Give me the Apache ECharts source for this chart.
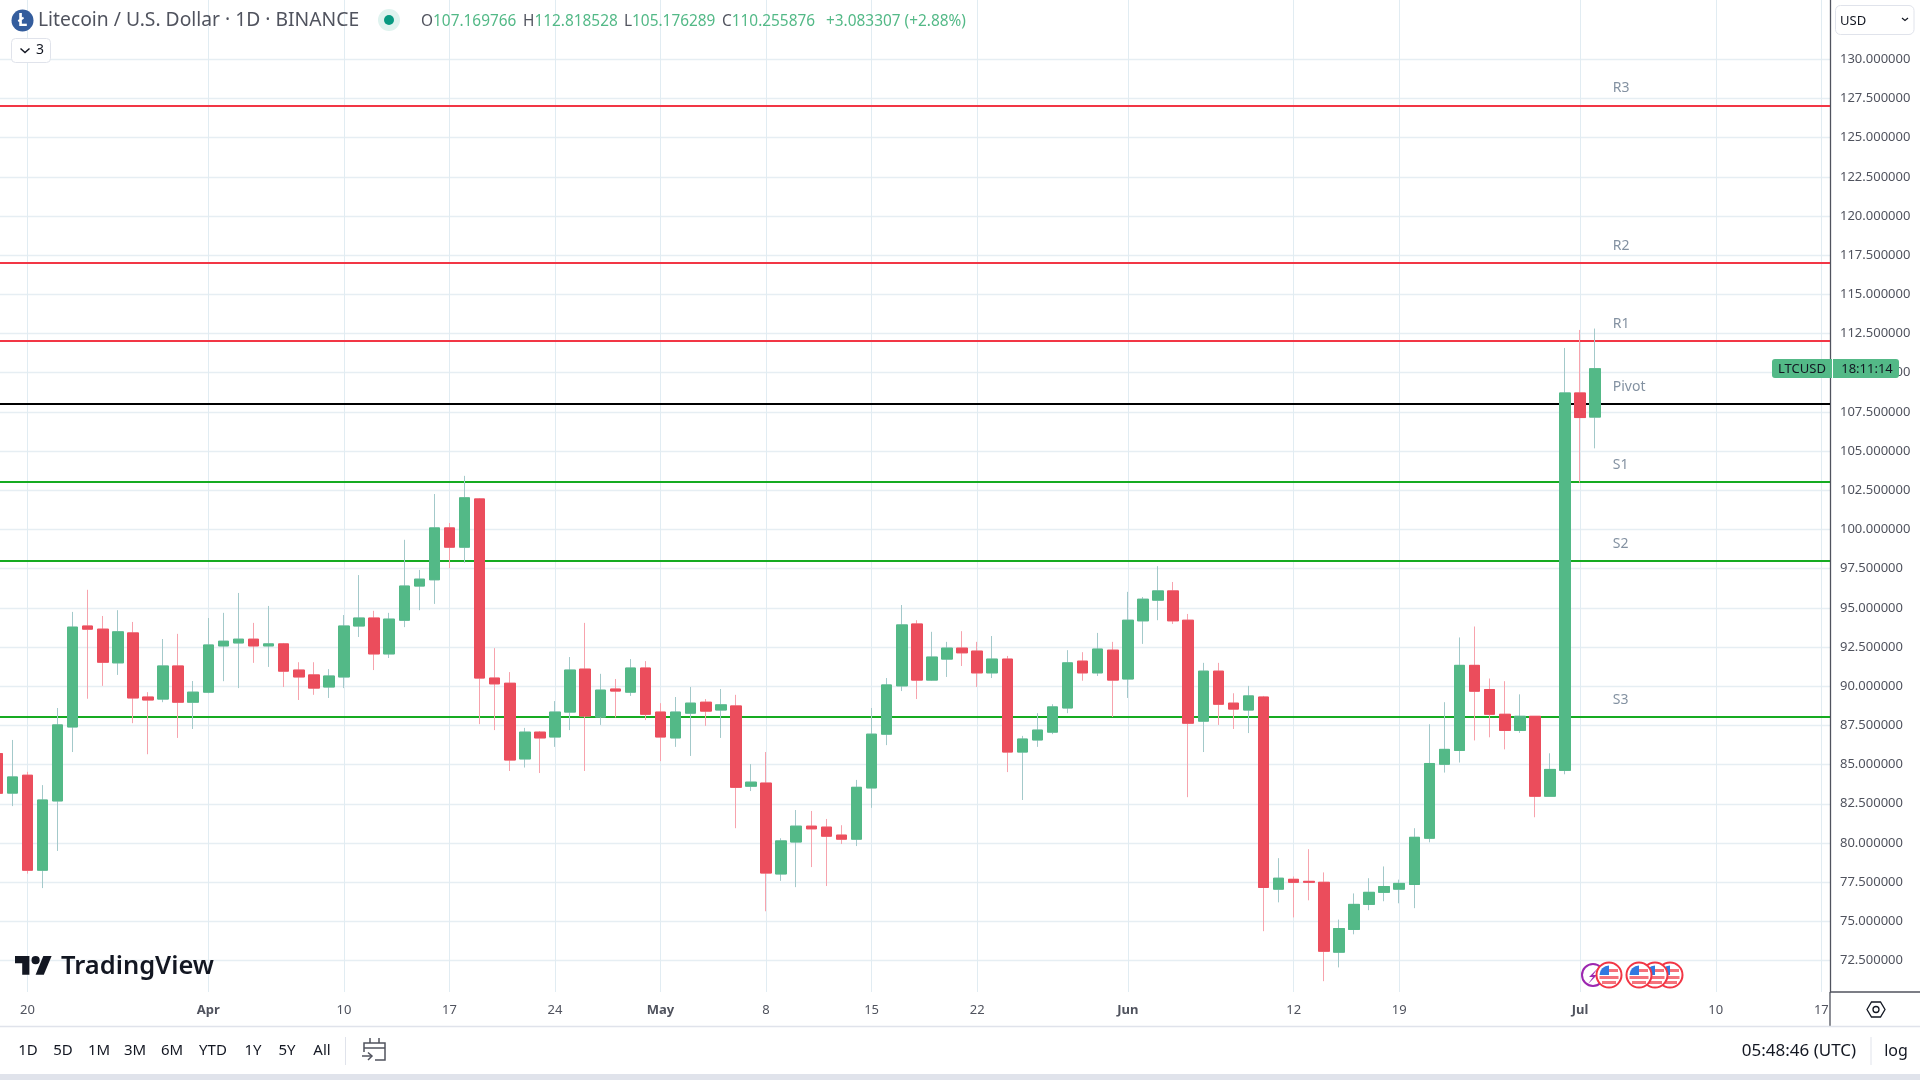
<!DOCTYPE html>
<html>
<head>
<meta charset="utf-8">
<title>Litecoin / U.S. Dollar</title>
<script src="https://cdn.jsdelivr.net/npm/echarts@6/dist/echarts.min.js"></script>
<style>html,body{margin:0;padding:0;background:#fff}#c{width:1920px;height:1080px}</style>
</head>
<body>
<div id="c"></div>
<script>
// ---------- data ----------
const firstDay = '2023-03-18';
const opens = [85.7,83.18,84.32,78.26,82.68,87.4,93.84,93.64,91.49,93.4,89.31,89.18,91.29,88.98,
 89.62,92.57,92.76,93.0,92.57,92.7,91.03,90.72,89.95,90.59,93.84,94.35,92.06,94.21,96.39,96.79,100.1,98.87,101.95,90.52,90.19,85.36,87.07,86.76,88.35,91.09,88.04,89.82,89.62,91.16,
 88.35,86.7,88.28,88.98,88.48,88.74,83.62,83.82,78.02,80.06,81.07,81.01,80.5,80.24,83.51,86.94,90.02,93.97,90.39,91.73,92.43,92.24,90.85,91.73,85.8,86.57,87.07,88.61,91.6,90.85,92.3,
 90.46,94.17,95.49,96.08,94.21,87.77,90.96,88.92,88.48,89.31,77.05,77.68,77.55,77.49,73.03,74.48,76.08,76.85,77.05,77.35,80.3,85.02,85.9,91.33,89.79,88.21,87.18,88.08,82.98,84.63,
 108.71,107.17];
const closes = [83.17,84.21,78.26,82.74,87.53,93.77,93.64,91.53,93.47,89.25,89.12,91.29,88.98,89.62,
 92.63,92.87,93.0,92.57,92.7,90.96,90.59,89.88,90.65,93.84,94.35,92.06,94.28,96.39,96.83,100.1,98.87,102.02,90.52,90.15,85.29,87.07,86.7,88.35,91.03,88.1,89.75,89.69,91.16,88.21,
 86.76,88.35,88.92,88.41,88.81,83.55,83.88,78.08,80.13,81.07,80.9,80.43,80.24,83.55,86.94,90.08,93.91,90.39,91.86,92.43,92.13,90.85,91.73,85.8,86.63,87.2,88.68,91.49,90.85,92.37,90.39,
 94.21,95.55,96.08,94.17,87.64,90.96,88.85,88.54,89.38,77.16,77.75,77.49,77.49,73.09,74.54,76.08,76.85,77.22,77.42,80.36,85.07,85.97,91.33,89.68,88.21,87.18,88.08,82.98,84.69,108.71,
 107.14,110.255876];
const highs = [86.6,86.57,84.54,83.69,88.61,94.74,96.15,94.48,94.85,94.1,89.62,93.01,93.34,90.33,
 94.35,94.68,95.95,94.04,95.12,92.76,91.53,91.53,91.09,94.54,97.09,94.81,94.68,99.34,97.42,102.26,100.41,103.42,102.0,92.43,90.9,87.34,87.14,89.05,91.86,94.04,90.79,90.46,91.73,91.6,
 88.92,89.31,89.95,89.18,89.82,89.45,85.03,85.8,80.3,82.1,82.04,81.53,81.13,84.02,88.61,90.52,95.18,94.21,93.47,92.83,93.51,92.83,93.2,91.93,86.83,88.28,88.85,92.3,92.17,93.4,92.83,
 96.02,95.69,97.66,96.65,94.61,91.49,91.49,89.55,90.02,89.38,79.03,77.86,79.6,78.12,75.11,76.78,77.75,78.5,77.66,80.94,87.57,88.98,93.11,93.81,90.49,90.32,89.48,88.08,85.72,111.58,
 112.73,112.818528];
const lows = [82.5,82.35,78.04,77.12,79.49,85.8,89.2,90.02,90.72,87.64,85.66,88.98,86.7,87.27,
 89.55,90.32,89.88,91.49,91.23,89.95,89.12,89.45,89.25,89.88,93.14,91.03,91.8,93.77,94.85,95.25,97.53,97.88,87.58,87.2,84.59,84.81,84.46,86.13,87.2,84.59,87.53,88.0,89.38,87.84,
 85.22,86.13,85.55,87.47,86.7,80.94,83.31,75.64,77.58,77.18,78.46,77.25,79.93,79.8,82.24,86.24,89.69,89.18,90.35,90.59,91.29,89.95,90.52,84.52,82.74,86.13,86.94,88.28,90.35,90.65,88.04,
 89.25,92.7,94.21,93.97,82.92,85.8,87.53,87.27,87.01,74.37,76.21,75.25,76.34,71.18,72.06,74.17,75.71,76.28,76.15,75.84,80.04,84.49,85.13,86.54,86.74,85.97,87.02,81.64,82.98,84.38,
 102.99,105.176289];

const priceTicks = [72.5,75,77.5,80,82.5,85,87.5,90,92.5,95,97.5,100,102.5,105,107.5,110,112.5,115,117.5,120,122.5,125,127.5,130];
const timeTickDates = ['2023-03-20','2023-04-01','2023-04-10','2023-04-17','2023-04-24','2023-05-01','2023-05-08','2023-05-15','2023-05-22','2023-06-01','2023-06-12','2023-06-19','2023-07-01','2023-07-10','2023-07-17'];
const timeTickLabels = ['20','Apr','10','17','24','May','8','15','22','Jun','12','19','Jul','10','17'];
const pivotNames = ['R3','R2','R1','Pivot','S1','S2','S3'];
const pivotValues = [127.05,117.02,112.04,108,103.03,98,88.05];
const pivotColors = ['#f23645','#f23645','#f23645','#000000','#16ab21','#16ab21','#16ab21'];
const pivotLabelDay = '2023-07-03';
const rangeButtons = ['1D','5D','1M','3M','6M','YTD','1Y','5Y','All'];
const rangeButtonX = [28,63,99,135,172,213,253,287,322];
const ohlcKeys = ['O','H','L','C',''];
const ohlcTexts = ['107.169766','112.818528','105.176289','110.255876','+3.083307 (+2.88%)'];
const ohlcX = [421,523,624,722,826];

// ---------- layout ----------
const DAY = 86400000;
const W = 1920, H = 1080, PLOT_R = 1830, PLOT_B = 992;
const GREEN = '#53b987', RED = '#eb4d5c', WICK_G = '#a3c9ca', WICK_R = '#f7a3ad';
const FONT = '"Noto Sans", sans-serif';
const t0 = Date.parse(firstDay);
const days = opens.map((_, i) => t0 + i * DAY);
const tRef = Date.parse('2023-03-20');
const pxPerDay = 15.075, refX = 27.4;
const xMin = tRef - (refX / pxPerDay) * DAY;
const xMax = tRef + ((PLOT_R - refX) / pxPerDay) * DAY;
const yMin = 70.49, yMax = 133.78;

const tickMs = timeTickDates.map(d => Date.parse(d));
const monthLabels = ['Apr','May','Jun','Jul'];
function timeLabel(v) {
  const i = tickMs.indexOf(+v);
  if (i < 0) return '';
  const s = timeTickLabels[i];
  return monthLabels.indexOf(s) >= 0 ? '{b|' + s + '}' : s;
}

// full candles drawn first show wicks; candles without wicks on top hold the solid bodies
const wickData = days.map((t, i) => [t, opens[i], closes[i], lows[i], highs[i]]);
const bodyData = days.map((t, i) => [t, opens[i], closes[i], Math.min(opens[i], closes[i]), Math.max(opens[i], closes[i])]);

// ---------- chrome ----------
function txt(x, y, text, size, fill, align, weight, z) {
  return {type:'text', z:z||50, silent:true, x:x, y:y, style:{text:text, fill:fill||'#131722', font:(weight||'normal')+' '+size+'px '+FONT, align:align||'left', verticalAlign:'middle'}};
}
function ln(x1,y1,x2,y2,color,w,z){
  return {type:'line', z:z||40, silent:true, shape:{x1:x1,y1:y1,x2:x2,y2:y2}, style:{stroke:color,lineWidth:w||1}};
}
function flag(cx, cy, z) {
  const r = 10;
  return {type:'group', z:z, silent:true, x:cx, y:cy, children:[
    {type:'circle', z:z, shape:{r:12.5}, style:{fill:'#fff', stroke:'#f23645', lineWidth:2}},
    {type:'sector', z:z, shape:{r:r-0.5, startAngle:Math.PI, endAngle:Math.PI*1.5}, style:{fill:'#3179e0'}},
    {type:'rect', z:z, shape:{x:0, y:-6, width:9, height:3}, style:{fill:'#f5737c'}},
    {type:'rect', z:z, shape:{x:-9.5, y:1, width:19, height:3}, style:{fill:'#f5737c'}},
    {type:'rect', z:z, shape:{x:-7, y:6, width:14, height:3}, style:{fill:'#f5737c'}}
  ]};
}
const greenT = '#53b987', darkT = '#50535e';
const graphics = [
  // axis frame extensions
  ln(PLOT_R,PLOT_B,W,PLOT_B,'#50535e',1.3),
  ln(PLOT_R,PLOT_B,PLOT_R,1026,'#50535e',1.3),
  ln(0,1026.5,W,1026.5,'#e0e3eb',1.5),
  {type:'rect', z:40, silent:true, shape:{x:0,y:1074,width:W,height:6}, style:{fill:'#e0e3eb'}},
  // legend head
  {type:'circle', z:50, silent:true, shape:{cx:22.5,cy:20.5,r:11}, style:{fill:'#345d9d'}},
  txt(22.5,21,'Ł',17,'#fff','center','bold'),
  txt(38,21,'Litecoin / U.S. Dollar · 1D · BINANCE',19.3,'#50535e'),
  {type:'rect', z:50, silent:true, shape:{x:378,y:9,width:22,height:22,r:11}, style:{fill:'#dff3ef'}},
  {type:'circle', z:51, silent:true, shape:{cx:389,cy:20,r:5}, style:{fill:'#089981'}},
  {type:'rect', z:50, silent:true, shape:{x:11.5,y:38.5,width:39,height:24,r:4}, style:{fill:'#fff',stroke:'#e0e3eb',lineWidth:1}},
  {type:'polyline', z:51, silent:true, shape:{points:[[20.5,48.5],[25,52.5],[29.5,48.5]]}, style:{stroke:'#131722',lineWidth:1.5,fill:null}},
  txt(36,50,'3',14,'#131722'),
  // currency box
  {type:'rect', z:50, silent:true, shape:{x:1835.5,y:5.5,width:78.5,height:29,r:5}, style:{fill:'#fff',stroke:'#e0e3eb',lineWidth:1}},
  txt(1840,21,'USD',13,'#131722'),
  {type:'polyline', z:51, silent:true, shape:{points:[[1902,18],[1905,20.5],[1908,18]]}, style:{stroke:'#131722',lineWidth:1.2,fill:null}},
  // last price tag
  {type:'rect', z:60, silent:true, shape:{x:1772,y:359,width:60,height:19,r:[3,0,0,3]}, style:{fill:GREEN}},
  {type:'rect', z:60, silent:true, shape:{x:1833,y:359,width:66,height:19,r:[0,3,3,0]}, style:{fill:GREEN}},
  txt(1778,369.5,'LTCUSD',13,'#131722','left','normal',61),
  txt(1867,369.5,'18:11:14',13,'#131722','center','normal',61),
  // watermark
  {type:'polygon', z:45, silent:true, shape:{points:[[29.4,974.7],[22.2,974.7],[22.2,963.3],[15,963.3],[15,956.1],[29.4,956.1]]}, style:{fill:'#131722'}},
  {type:'polygon', z:45, silent:true, shape:{points:[[43.8,974.7],[35.6,974.7],[43.3,956.1],[51.6,956.1]]}, style:{fill:'#131722'}},
  {type:'circle', z:45, silent:true, shape:{cx:35.6,cy:960.2,r:4.1}, style:{fill:'#131722'}},
  txt(61,966.5,'TradingView',25.5,'#131722','left','600',45),
  // events
  {type:'circle', z:42, silent:true, shape:{cx:1593,cy:975,r:11}, style:{fill:'#fff',stroke:'#9c27b0',lineWidth:2}},
  {type:'polygon', z:42, silent:true, shape:{points:[[1598,968],[1589,977],[1593,977],[1588,984],[1597,975],[1593,975]]}, style:{fill:'#9c27b0'}},
  flag(1670,975,42), flag(1655,975,43), flag(1639,975,44), flag(1609,975,43),
  // settings gear
  {type:'polygon', z:50, silent:true, shape:{points:[[1867,1009.5],[1871.5,1002],[1880.5,1002],[1885,1009.5],[1880.5,1017],[1871.5,1017]]}, style:{fill:'#fff',stroke:'#131722',lineWidth:1.3}},
  {type:'circle', z:51, silent:true, shape:{cx:1876,cy:1009.5,r:3}, style:{fill:'#fff',stroke:'#131722',lineWidth:1.3}},
  // bottom toolbar
  ln(345.5,1037,345.5,1065,'#e0e3eb',1),
  {type:'polyline', z:50, silent:true, shape:{points:[[364,1052],[364,1043],[385,1043],[385,1060],[375,1060]]}, style:{stroke:'#50535e',lineWidth:1.5,fill:null}},
  ln(364,1048,385,1048,'#50535e',1.5),
  ln(370,1038,370,1043,'#50535e',1.5),
  ln(379,1038,379,1043,'#50535e',1.5),
  ln(362,1056,372,1056,'#50535e',1.5),
  {type:'polyline', z:50, silent:true, shape:{points:[[368,1052.5],[372,1056],[368,1060]]}, style:{stroke:'#50535e',lineWidth:1.5,fill:null}},
  txt(1799,1051,'05:48:46 (UTC)',17,'#131722','center'),
  ln(1871,1037,1871,1065,'#e0e3eb',1),
  txt(1896,1051,'log',16,'#131722','center')
];
rangeButtons.forEach((b, i) => graphics.push(txt(rangeButtonX[i],1051,b,15,'#131722','center')));
ohlcTexts.forEach((t, i) => graphics.push({type:'text', z:50, silent:true, x:ohlcX[i], y:22, style:{
  text:(ohlcKeys[i] ? '{k|' + ohlcKeys[i] + '}' : '') + '{g|' + t + '}',
  verticalAlign:'middle', font:'15.4px '+FONT,
  rich:{k:{fill:darkT, font:'15.4px '+FONT}, g:{fill:greenT, font:'15.4px '+FONT}}}}));

// ---------- chart ----------
const option = {
  animation:false,
  backgroundColor:'#ffffff',
  textStyle:{fontFamily:FONT},
  grid:{left:0, top:0, width:PLOT_R, height:PLOT_B, containLabel:false},
  xAxis:{
    type:'value', min:xMin, max:xMax, scale:true,
    axisLine:{show:false}, axisTick:{show:false, customValues:tickMs},
    axisLabel:{customValues:tickMs, formatter:timeLabel, hideOverlap:false, showMinLabel:true, showMaxLabel:true, margin:12, color:'#50535e', fontSize:13, fontFamily:FONT,
      rich:{b:{fontWeight:'bold', fontSize:13, color:'#50535e', fontFamily:FONT}}},
    splitLine:{show:true, lineStyle:{color:'#e1ecf2', width:1}}
  },
  yAxis:{
    type:'value', position:'right', min:yMin, max:yMax, scale:true,
    axisLine:{show:true, onZero:false, lineStyle:{color:'#50535e', width:1.3}},
    axisTick:{show:false, customValues:priceTicks},
    axisLabel:{customValues:priceTicks, formatter:v => (+v).toFixed(6), margin:10, color:'#50535e', fontSize:13, fontFamily:FONT, showMinLabel:true, showMaxLabel:true},
    splitLine:{show:true, lineStyle:{color:'#e6eef3', width:1.3}}
  },
  series:[
    {
      name:'Pivot levels', type:'scatter', z:1, silent:true, symbolSize:1,
      itemStyle:{color:'transparent'},
      data:pivotNames.map((n, i) => ({name:n, value:[Date.parse(pivotLabelDay), pivotValues[i]]})),
      label:{show:true, position:'right', distance:0, offset:[2,-17], formatter:p => p.name, color:'#64768a', fontSize:14, fontFamily:FONT},
      markLine:{silent:true, z:1, symbol:'none', animation:false, label:{show:false},
        data:pivotValues.map((v, i) => ({yAxis:v, lineStyle:{color:pivotColors[i], width:2, type:'solid'}}))}
    },
    {
      name:'LTCUSD wicks', type:'candlestick', layout:'horizontal', z:2, silent:true, barWidth:11, clip:true,
      data:wickData, encode:{x:0, y:[1,2,3,4]},
      itemStyle:{color:WICK_G, color0:WICK_R, borderColor:WICK_G, borderColor0:WICK_R, borderWidth:1}
    },
    {
      name:'LTCUSD', type:'candlestick', layout:'horizontal', z:3, silent:true, barWidth:11, clip:true,
      data:bodyData, encode:{x:0, y:[1,2,3,4]},
      itemStyle:{color:GREEN, color0:RED, borderColor:GREEN, borderColor0:RED, borderWidth:1}
    }
  ],
  graphic:{elements:graphics}
};
const chart = echarts.init(document.getElementById('c'));
chart.setOption(option);
</script>
</body>
</html>
